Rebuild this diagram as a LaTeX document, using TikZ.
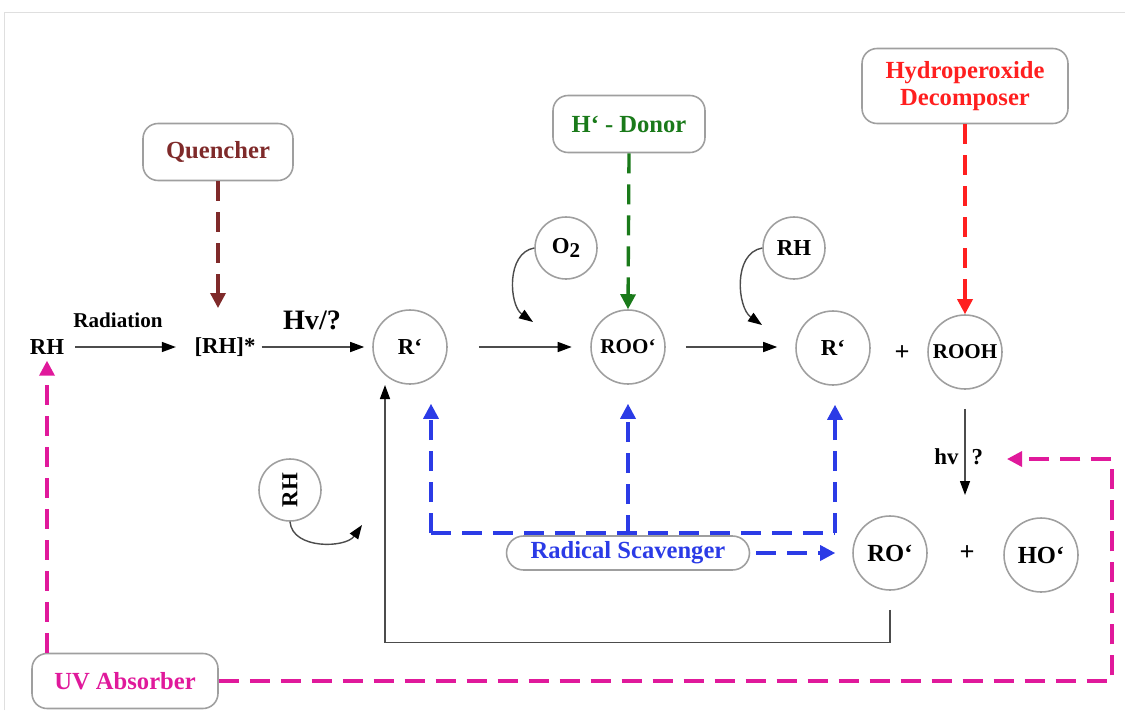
\documentclass[tikz,border=0pt]{standalone}
\usepackage{fontspec}
\setmainfont{Liberation Serif}
\usetikzlibrary{arrows.meta}
\definecolor{quench}{HTML}{7F2A2A}
\definecolor{donor}{HTML}{1A7A1A}
\definecolor{decomp}{HTML}{FF1F1F}
\definecolor{scav}{HTML}{2B3BE6}
\definecolor{uvabs}{HTML}{E0199B}
\tikzset{
  spec/.style={circle,draw=gray!75,line width=0.9pt,minimum size=1.48cm,inner sep=0pt,font=\fontsize{13}{13}\selectfont\bfseries},
  small/.style={spec,minimum size=1.24cm},
  agent/.style={draw=gray!75,line width=0.9pt,rounded corners=0.3cm,align=center,font=\fontsize{14}{15}\selectfont\bfseries},
  flow/.style={draw=gray!60!black,line width=0.8pt,-{Triangle[black,length=0.28cm,width=0.2cm]}},
  gap/.style={shorten <=0.62cm,shorten >=0.37cm},
  hint/.style={line width=1.9pt,dash pattern=on 0.4cm off 0.22cm},
  hintarrow/.style={hint,-{Triangle[length=0.3cm,width=0.3cm]}}
}
\begin{document}
\begin{tikzpicture}[x=0.02cm,y=-0.02cm,font=\bfseries]
\useasboundingbox (0,0) rectangle (1125,710);
\draw[gray!25] (4,710) -- (4,12) -- (1125,12);

% species
\node[font=\fontsize{13}{13}\selectfont\bfseries] (rh) at (47,347) {RH};
\node[font=\fontsize{13}{13}\selectfont\bfseries] (rhx) at (225,347) {[RH]*};
\node[spec] (r1) at (410,347) {R`};
\node[spec,font=\fontsize{12}{12}\selectfont\bfseries] (roo) at (628,347) {ROO`};
\node[spec] (r2) at (833,348) {R`};
\node[font=\fontsize{15}{15}\selectfont\bfseries] (plus1) at (902,353) {+};
\node[spec,font=\fontsize{12}{12}\selectfont\bfseries] (rooh) at (965,352) {ROOH};
\node[spec,font=\fontsize{14}{14}\selectfont\bfseries] (ro) at (890,553) {RO`};
\node[font=\fontsize{15}{15}\selectfont\bfseries] (plus2) at (967,553) {+};
\node[spec,font=\fontsize{14}{14}\selectfont\bfseries] (ho) at (1041,555) {HO`};
\node[small] (o2) at (566,248) {O\raisebox{-0.35ex}{\fontsize{12}{12}\selectfont 2}};
\node[small] (rh2) at (794,248) {RH};
\node[small] (rh3) at (290,490) {\rotatebox{90}{RH}};

% stabilisers
\node[agent,text=quench,minimum width=3cm,minimum height=1.14cm] (qu) at (218,152) {Quencher};
\node[agent,text=donor,minimum width=3.04cm,minimum height=1.14cm] (hd) at (629,124) {H` - Donor};
\node[agent,text=decomp,minimum width=4.12cm,minimum height=1.5cm] (hp) at (965,86) {Hydroperoxide\\Decomposer};
\node[agent,text=scav,minimum width=4.86cm,minimum height=0.68cm,inner sep=0pt,rounded corners=0.34cm] (rs) at (628,553) {Radical Scavenger};
\node[agent,text=uvabs,minimum width=3.72cm,minimum height=1.1cm] (uv) at (125,681) {UV Absorber};

% free ends
\coordinate (o2in) at (533,322);
\coordinate (rh2in) at (762,325);
\coordinate (rh3in) at (362,525);
\coordinate (loopin) at (385,385);
\coordinate (hvend) at (965,495);
\coordinate (quend) at (218,308);
\coordinate (sl) at (431,533);
\coordinate (sr) at (835,533);
\coordinate (uvc) at (1112,459);
\coordinate (uvend) at (1007,459);

% main chain
\draw[flow,shorten <=0.1cm,shorten >=0.25cm] (rh) -- (rhx);
\node[font=\fontsize{12}{12}\selectfont\bfseries] (radlab) at (118,320) {Radiation};
\draw[flow,shorten >=0.16cm] (rhx) -- (r1);
\node[font=\fontsize{16}{16}\selectfont\bfseries] (hvlab) at (312,320) {Hv/?};
\draw[flow,gap] (r1) -- (roo);
\draw[flow,shorten <=0.4cm,shorten >=0.36cm] (roo) -- (roo -| r2.west);
\draw[flow] (o2.west) to[out=190,in=145] (o2in);
\draw[flow] (rh2.west) to[out=190,in=145] (rh2in);
\draw[flow] (rh3.south) to[out=-85,in=-125] (rh3in);
\draw[flow] ([yshift=-0.38cm]ro.south) -- ++(0,33) -| (loopin);
\draw[flow] ([yshift=-0.38cm]rooh.south) -- (hvend)
  node[pos=0.56,left,font=\fontsize{13}{13}\selectfont\bfseries] {hv}
  node[pos=0.56,right,font=\fontsize{13}{13}\selectfont\bfseries] {?};

% stabiliser actions
\draw[hintarrow,quench] (qu.south) -- (quend);
\draw[hintarrow,donor] (hd.south) -- (roo.north);
\draw[hintarrow,decomp] (hp.south) -- (rooh.north);
\draw[hint,scav] (sl) -- (sr);
\draw[hintarrow,scav] (sl) -- ([yshift=-0.38cm]r1.south -| sl);
\draw[hintarrow,scav] (rs.north) -- ([yshift=-0.38cm]roo.south);
\draw[hintarrow,scav] (sr) -- ([yshift=-0.38cm]r2.south -| sr);
\draw[hintarrow,scav,shorten <=0.12cm,shorten >=0.34cm] (rs.east) -- (ro.west);
\draw[hintarrow,uvabs] (uv.north -| rh) -- (rh.south);
\draw[hintarrow,uvabs] (uv.east) -| (uvc) -- (uvend);
\end{tikzpicture}
\end{document}
